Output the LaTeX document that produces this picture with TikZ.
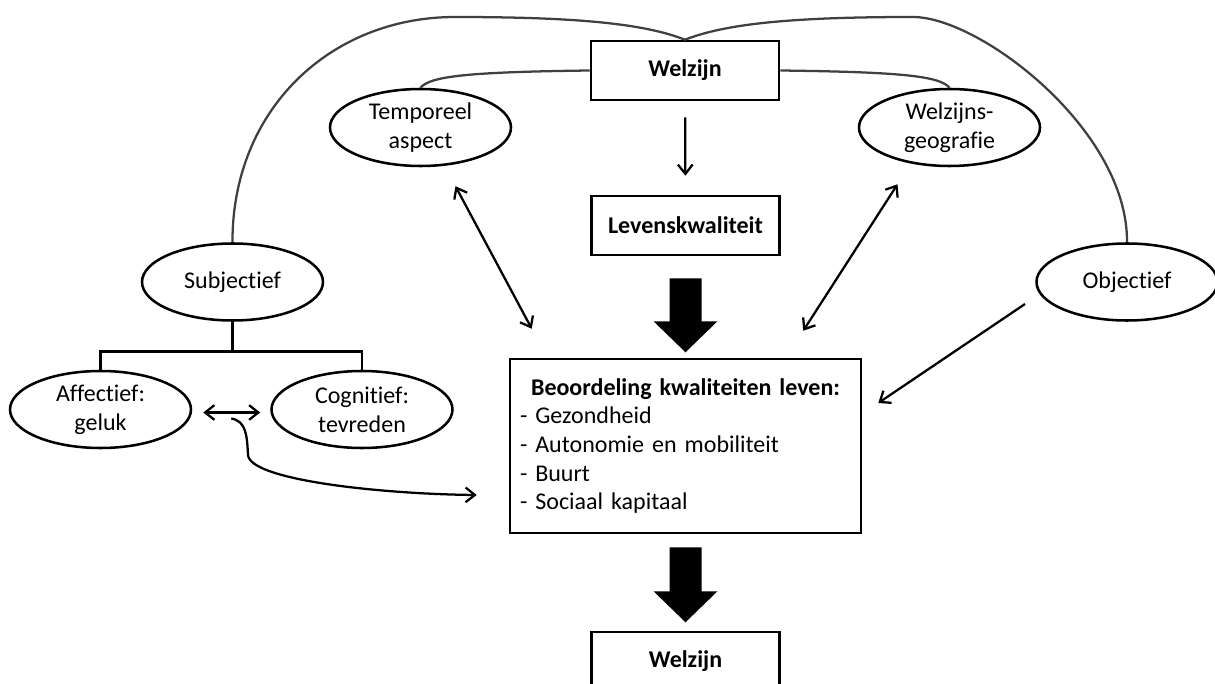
\documentclass[tikz,border=0pt]{standalone}
\usepackage{fontspec}
\setmainfont{Carlito}[Ligatures=NoCommon]
\usetikzlibrary{shapes.geometric, arrows.meta, calc}

\definecolor{bowgray}{HTML}{404040}
\newcommand\diagfont{\fontsize{18}{21.5}\selectfont}

\tikzset{
  labelbox/.style={rectangle, draw, line width=1.9pt, minimum width=141pt, minimum height=44.25pt, font=\diagfont\bfseries},
  bubble/.style={ellipse, draw, line width=1.9pt, minimum width=135.75pt, minimum height=57.75pt, inner sep=0pt, align=center, font=\diagfont},
  bow/.style={draw=bowgray, line width=1.7pt},
  tree/.style={line width=1.9pt},
  arr/.style={-{Straight Barb[length=7pt,width=11pt]}, line width=1.7pt},
  dblarr/.style={{Straight Barb[length=7pt,width=11pt]}-{Straight Barb[length=7pt,width=11pt]}, line width=1.7pt}
}

\begin{document}
\begin{tikzpicture}[x=0.75pt, y=-0.75pt]
  \useasboundingbox (0,0) rectangle (1215,684);

  % middle column
  \node (welzijnTop) [labelbox] at (685,70.5) {Welzijn};
  \node (levens) [labelbox] at (685.5,225.5) {Levenskwaliteit};
  \node (beoordeling) [draw, line width=1.9pt, minimum width=263.25pt, minimum height=130.5pt,
        text width=248.25pt, inner xsep=7.5pt, align=left, font=\diagfont] at (685.5,446)
        {\makebox[248.25pt]{\textbf{Beoordeling kwaliteiten leven:}}\\
         - Gezondheid\\
         - Autonomie en mobiliteit\\
         - Buurt\\
         - Sociaal kapitaal};
  \node (welzijnBottom) [labelbox] at (685.5,661.5) {Welzijn};

  % ellipses
  \node (temporeel) [bubble] at (420.5,127.5) {Temporeel\\aspect};
  \node (geografie) [bubble] at (949.5,127.5) {Welzijns-\\geografie};
  \node (subjectief) [bubble] at (232.5,282) {Subjectief};
  \node (objectief) [bubble] at (1127,282) {Objectief};
  \node (affectief) [bubble] at (100.5,409.5) {Affectief:\\geluk};
  \node (cognitief) [bubble] at (362,409.5) {Cognitief:\\tevreden};

  % grey bows from the top box
  \draw[bow] (welzijnTop.north) .. controls (645,24) and (580,17) .. (455,17)
        .. controls (330,17) and (232,110) .. (subjectief.north);
  \draw[bow] (welzijnTop.north) .. controls (725,24) and (790,17) .. (913,17)
        .. controls (980,17) and (1128,130) .. (objectief.north);
  \draw[bow] (welzijnTop.west) .. controls (470,72) and (430,76) .. (temporeel.north);
  \draw[bow] (welzijnTop.east) .. controls (900,72) and (940,76) .. (geografie.north);

  % arrows
  \draw[arr, shorten <=12pt, shorten >=14.25pt] (welzijnTop) -- (levens);
  \draw[dblarr] ($(temporeel.south)+(35,19)$) -- ($(beoordeling.north west)+(23,-29)$);
  \draw[dblarr] ($(geografie.south)+(-52,17)$) -- ($(beoordeling.north east)+(-59,-27)$);
  \draw[arr] ($(objectief.center)+(-102,22)$) -- ($(beoordeling.east)+(16,-43)$);

  % block arrows
  \fill ($(levens.south)+(-16,22)$) -- ++(32,0) -- ++(0,43) -- ++(16,0) -- ++(-32,31)
        -- ++(-32,-31) -- ++(16,0) -- cycle;
  \fill ($(beoordeling.south)+(-16,13)$) -- ++(32,0) -- ++(0,44) -- ++(16,0) -- ++(-32,31)
        -- ++(-32,-31) -- ++(16,0) -- cycle;

  % subjectief tree
  \draw[tree] (subjectief.south) -- ++(0,30) coordinate (split);
  \draw[tree] (affectief.north) |- (split) -| (cognitief.north);
  \draw[dblarr] ($(affectief.east)+(11,3)$) -- ($(cognitief.west)+(-10,3)$);

  \coordinate (loopstart) at ($(affectief.east)+(39,9)$);
  \draw[arr] (loopstart) .. controls (246,421) and (247,435) .. (248,455)
        .. controls (250,480) and (380,494) .. ($(beoordeling.west)+(-32,49)$);
\end{tikzpicture}
\end{document}
